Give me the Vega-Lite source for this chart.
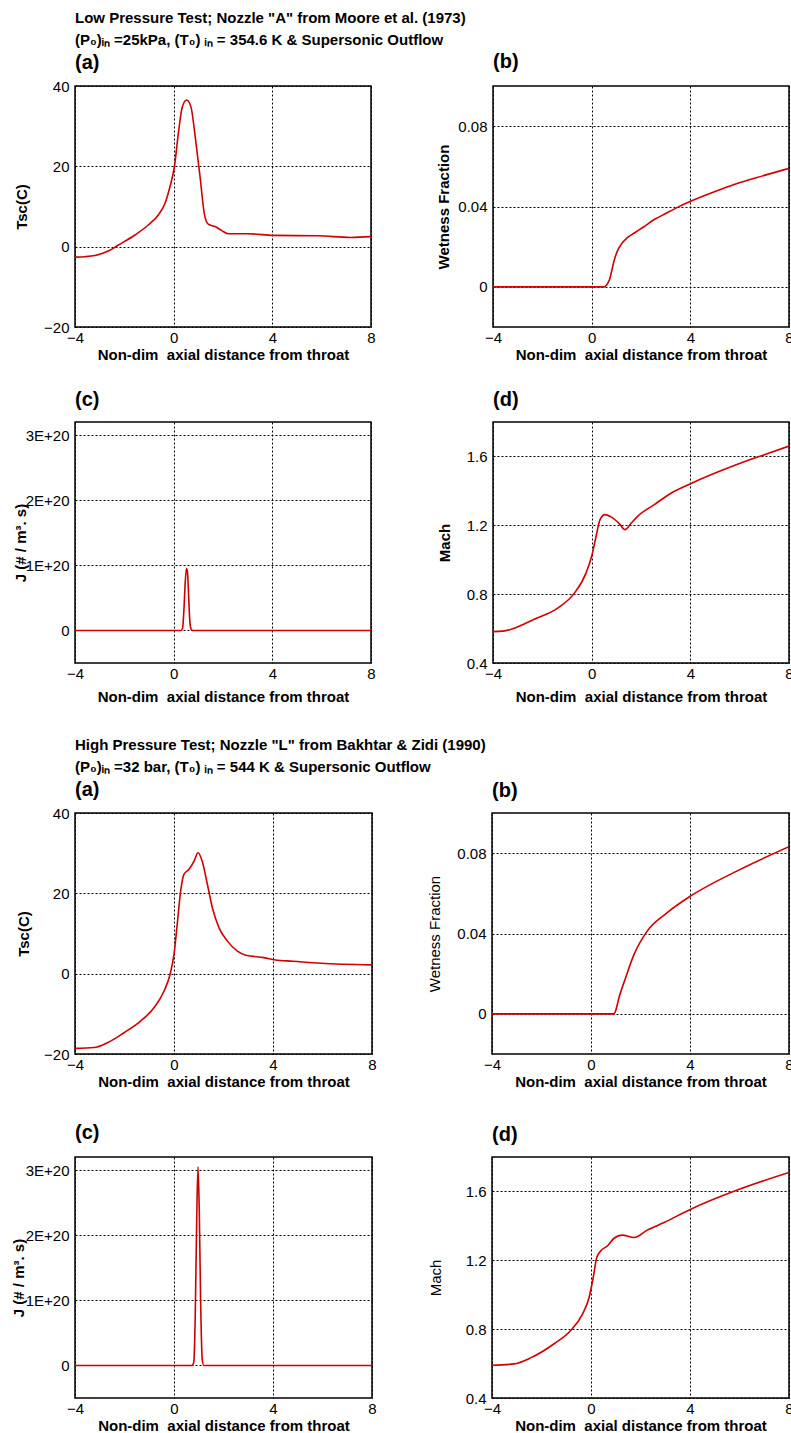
{
  "$schema": "https://vega.github.io/schema/vega-lite/v6.json",
  "background": "white",
  "padding": {"left": 10, "top": 10, "right": 0, "bottom": 5},
  "config": {
    "font": "Liberation Sans",
    "view": {"stroke": "black", "strokeWidth": 1.5},
    "axis": {"grid": true, "gridColor": "black", "gridDash": [2, 2], "gridWidth": 1, "gridOpacity": 1, "domain": false, "ticks": false, "labelFont": "Liberation Sans", "labelFontSize": 15, "labelColor": "black", "labelFlush": false, "titleFont": "Liberation Sans", "titleFontSize": 15, "titleFontWeight": "bold", "titleColor": "black"},
    "axisX": {"labelPadding": 3, "titlePadding": 2},
    "axisY": {"labelPadding": 6},
    "title": {"anchor": "start", "frame": "group", "font": "Liberation Sans", "fontSize": 20, "fontWeight": "bold", "color": "black", "offset": 12, "subtitleFont": "Liberation Sans", "subtitleFontSize": 20, "subtitleFontWeight": "bold", "subtitleColor": "black", "subtitlePadding": 5}
  },
  "datasets": {
    "lowT": [{"x": -4, "v": -2.6}, {"x": -3.6, "v": -2.5}, {"x": -3.19, "v": -2.2}, {"x": -2.65, "v": -1.1}, {"x": -2.24, "v": 0.4}, {"x": -1.57, "v": 2.9}, {"x": -1.03, "v": 5.4}, {"x": -0.62, "v": 7.9}, {"x": -0.35, "v": 10.8}, {"x": -0.15, "v": 14.9}, {"x": 0.03, "v": 19.9}, {"x": 0.19, "v": 28.2}, {"x": 0.35, "v": 34.8}, {"x": 0.53, "v": 36.5}, {"x": 0.7, "v": 34.8}, {"x": 0.89, "v": 26.5}, {"x": 1.07, "v": 17.4}, {"x": 1.24, "v": 8.3}, {"x": 1.4, "v": 5.6}, {"x": 1.68, "v": 5.0}, {"x": 1.95, "v": 4.0}, {"x": 2.22, "v": 3.2}, {"x": 3.0, "v": 3.2}, {"x": 4.07, "v": 2.8}, {"x": 5.84, "v": 2.7}, {"x": 7.19, "v": 2.3}, {"x": 8, "v": 2.5}],
    "lowW": [{"x": -4, "v": 0}, {"x": 0.5, "v": 0}, {"x": 0.6, "v": 0.0008}, {"x": 0.72, "v": 0.0035}, {"x": 0.92, "v": 0.0135}, {"x": 1.05, "v": 0.018}, {"x": 1.19, "v": 0.021}, {"x": 1.45, "v": 0.0245}, {"x": 1.73, "v": 0.0268}, {"x": 2.1, "v": 0.0298}, {"x": 2.54, "v": 0.0335}, {"x": 3.0, "v": 0.0365}, {"x": 3.5, "v": 0.0397}, {"x": 4.03, "v": 0.0427}, {"x": 5.0, "v": 0.0475}, {"x": 5.78, "v": 0.051}, {"x": 7.0, "v": 0.0555}, {"x": 8, "v": 0.059}],
    "lowJ": [{"x": -4, "v": 0}, {"x": 0.3, "v": 0}, {"x": 0.36, "v": 3e18}, {"x": 0.42, "v": 3.5e19}, {"x": 0.47, "v": 7.5e19}, {"x": 0.52, "v": 9.5e19}, {"x": 0.56, "v": 9.0e19}, {"x": 0.61, "v": 5.0e19}, {"x": 0.66, "v": 1.2e19}, {"x": 0.72, "v": 1e18}, {"x": 0.78, "v": 0}, {"x": 8, "v": 0}],
    "lowM": [{"x": -4, "v": 0.582}, {"x": -3.6, "v": 0.585}, {"x": -3.14, "v": 0.602}, {"x": -2.33, "v": 0.654}, {"x": -1.38, "v": 0.719}, {"x": -0.7, "v": 0.806}, {"x": -0.23, "v": 0.922}, {"x": 0, "v": 1.02}, {"x": 0.18, "v": 1.136}, {"x": 0.34, "v": 1.233}, {"x": 0.54, "v": 1.262}, {"x": 0.78, "v": 1.249}, {"x": 1.12, "v": 1.21}, {"x": 1.35, "v": 1.175}, {"x": 1.59, "v": 1.21}, {"x": 1.86, "v": 1.252}, {"x": 2.54, "v": 1.32}, {"x": 3.2, "v": 1.385}, {"x": 4.03, "v": 1.443}, {"x": 5.78, "v": 1.547}, {"x": 7, "v": 1.61}, {"x": 8, "v": 1.66}],
    "highT": [{"x": -4, "v": -18.6}, {"x": -3.23, "v": -18.4}, {"x": -2.69, "v": -17.2}, {"x": -2.02, "v": -14.7}, {"x": -1.35, "v": -11.8}, {"x": -0.81, "v": -8.5}, {"x": -0.4, "v": -4.3}, {"x": -0.16, "v": -0.2}, {"x": 0.0, "v": 4.8}, {"x": 0.13, "v": 12.3}, {"x": 0.27, "v": 20.6}, {"x": 0.4, "v": 24.7}, {"x": 0.61, "v": 26.0}, {"x": 0.81, "v": 28.0}, {"x": 0.97, "v": 30.1}, {"x": 1.14, "v": 28.0}, {"x": 1.35, "v": 22.2}, {"x": 1.55, "v": 16.4}, {"x": 1.82, "v": 11.4}, {"x": 2.16, "v": 8.1}, {"x": 2.56, "v": 5.6}, {"x": 2.9, "v": 4.6}, {"x": 3.64, "v": 4.0}, {"x": 4.1, "v": 3.4}, {"x": 4.8, "v": 3.1}, {"x": 5.93, "v": 2.6}, {"x": 8, "v": 2.2}],
    "highW": [{"x": -4, "v": 0}, {"x": 0.9, "v": 0}, {"x": 0.98, "v": 0.001}, {"x": 1.13, "v": 0.008}, {"x": 1.4, "v": 0.018}, {"x": 1.74, "v": 0.0296}, {"x": 2.27, "v": 0.0412}, {"x": 3.08, "v": 0.0504}, {"x": 4.03, "v": 0.0587}, {"x": 5.91, "v": 0.0712}, {"x": 8, "v": 0.0832}],
    "highJ": [{"x": -4, "v": 0}, {"x": 0.72, "v": 0}, {"x": 0.8, "v": 5e18}, {"x": 0.86, "v": 8e19}, {"x": 0.92, "v": 2.3e20}, {"x": 0.97, "v": 3.05e20}, {"x": 1.02, "v": 2.4e20}, {"x": 1.08, "v": 9e19}, {"x": 1.14, "v": 1e19}, {"x": 1.2, "v": 0}, {"x": 8, "v": 0}],
    "highM": [{"x": -4, "v": 0.59}, {"x": -3.11, "v": 0.598}, {"x": -2.44, "v": 0.633}, {"x": -1.49, "v": 0.715}, {"x": -0.82, "v": 0.792}, {"x": -0.35, "v": 0.886}, {"x": -0.08, "v": 0.982}, {"x": 0.09, "v": 1.1}, {"x": 0.23, "v": 1.215}, {"x": 0.39, "v": 1.254}, {"x": 0.66, "v": 1.283}, {"x": 0.93, "v": 1.328}, {"x": 1.26, "v": 1.346}, {"x": 1.74, "v": 1.332}, {"x": 2.27, "v": 1.375}, {"x": 2.95, "v": 1.419}, {"x": 4.03, "v": 1.497}, {"x": 5.91, "v": 1.608}, {"x": 8, "v": 1.71}]
  },
  "spacing": 32,
  "vconcat": [
    {
      "columns": 2, "bounds": "flush", "spacing": {"row": 95, "column": 122},
      "concat": [
        {
          "width": 296, "height": 241, "data": {"name": "lowT"},
          "title": {"text": ["Low Pressure Test; Nozzle \"A\" from Moore et al. (1973)", "(P₀)ᵢₙ =25kPa, (T₀) ᵢₙ =  354.6 K & Supersonic Outflow"], "subtitle": "(a)", "fontSize": 15, "lineHeight": 22, "offset": 6},
          "mark": {"type": "line", "color": "#d00000", "strokeWidth": 1.6, "interpolate": "monotone", "clip": true},
          "encoding": {
            "x": {"field": "x", "type": "quantitative", "scale": {"domain": [-4, 8], "nice": false}, "axis": {"values": [-4, 0, 4, 8], "title": "Non-dim\u00a0 axial distance from throat"}},
            "y": {"field": "v", "type": "quantitative", "scale": {"domain": [-20, 40], "nice": false, "zero": false}, "axis": {"values": [-20, 0, 20, 40], "title": "Tsc(C)", "titleX": -46}}
          }
        },
        {
          "width": 296, "height": 241, "data": {"name": "lowW"},
          "title": {"text": "(b)", "offset": 14},
          "mark": {"type": "line", "color": "#d00000", "strokeWidth": 1.6, "interpolate": "monotone", "clip": true},
          "encoding": {
            "x": {"field": "x", "type": "quantitative", "scale": {"domain": [-4, 8], "nice": false}, "axis": {"values": [-4, 0, 4, 8], "title": "Non-dim\u00a0 axial distance from throat"}},
            "y": {"field": "v", "type": "quantitative", "scale": {"domain": [-0.02, 0.1], "nice": false, "zero": false}, "axis": {"values": [0, 0.04, 0.08], "format": "~g", "title": "Wetness Fraction", "titleX": -42}}
          }
        },
        {
          "width": 296, "height": 241, "data": {"name": "lowJ"},
          "title": {"text": "(c)"},
          "mark": {"type": "line", "color": "#d00000", "strokeWidth": 1.6, "interpolate": "monotone", "clip": true},
          "encoding": {
            "x": {"field": "x", "type": "quantitative", "scale": {"domain": [-4, 8], "nice": false}, "axis": {"values": [-4, 0, 4, 8], "title": "Non-dim\u00a0 axial distance from throat", "titlePadding": 8}},
            "y": {"field": "v", "type": "quantitative", "scale": {"domain": [-5e19, 3.2e20], "nice": false, "zero": false}, "axis": {"values": [0, 1e20, 2e20, 3e20], "labelExpr": "datum.value == 0 ? '0' : format(datum.value / 1e20, 'd') + 'E+20'", "title": "J (# / m³. s)", "titleX": -47}}
          }
        },
        {
          "width": 296, "height": 241, "data": {"name": "lowM"},
          "title": {"text": "(d)"},
          "mark": {"type": "line", "color": "#d00000", "strokeWidth": 1.6, "interpolate": "monotone", "clip": true},
          "encoding": {
            "x": {"field": "x", "type": "quantitative", "scale": {"domain": [-4, 8], "nice": false}, "axis": {"values": [-4, 0, 4, 8], "title": "Non-dim\u00a0 axial distance from throat", "titlePadding": 8}},
            "y": {"field": "v", "type": "quantitative", "scale": {"domain": [0.4, 1.8], "nice": false, "zero": false}, "axis": {"values": [0.4, 0.8, 1.2, 1.6], "format": ".1f", "title": "Mach", "titleX": -41}}
          }
        }
      ]
    },
    {
      "columns": 2, "bounds": "flush", "spacing": {"row": 103, "column": 120},
      "concat": [
        {
          "width": 297, "height": 241, "data": {"name": "highT"},
          "title": {"text": ["High Pressure Test; Nozzle \"L\" from Bakhtar & Zidi (1990)", "(P₀)ᵢₙ =32 bar, (T₀) ᵢₙ =  544 K & Supersonic Outflow"], "subtitle": "(a)", "fontSize": 15, "lineHeight": 22, "offset": 6},
          "mark": {"type": "line", "color": "#d00000", "strokeWidth": 1.6, "interpolate": "monotone", "clip": true},
          "encoding": {
            "x": {"field": "x", "type": "quantitative", "scale": {"domain": [-4, 8], "nice": false}, "axis": {"values": [-4, 0, 4, 8], "title": "Non-dim\u00a0 axial distance from throat"}},
            "y": {"field": "v", "type": "quantitative", "scale": {"domain": [-20, 40], "nice": false, "zero": false}, "axis": {"values": [-20, 0, 20, 40], "title": "Tsc(C)", "titleX": -44}}
          }
        },
        {
          "width": 297, "height": 241, "data": {"name": "highW"},
          "title": {"text": "(b)"},
          "mark": {"type": "line", "color": "#d00000", "strokeWidth": 1.6, "interpolate": "monotone", "clip": true},
          "encoding": {
            "x": {"field": "x", "type": "quantitative", "scale": {"domain": [-4, 8], "nice": false}, "axis": {"values": [-4, 0, 4, 8], "title": "Non-dim\u00a0 axial distance from throat"}},
            "y": {"field": "v", "type": "quantitative", "scale": {"domain": [-0.02, 0.1], "nice": false, "zero": false}, "axis": {"values": [0, 0.04, 0.08], "format": "~g", "title": "Wetness Fraction", "titleFontWeight": "normal", "titleX": -50}}
          }
        },
        {
          "width": 297, "height": 241, "data": {"name": "highJ"},
          "title": {"text": "(c)", "offset": 14},
          "mark": {"type": "line", "color": "#d00000", "strokeWidth": 1.6, "interpolate": "monotone", "clip": true},
          "encoding": {
            "x": {"field": "x", "type": "quantitative", "scale": {"domain": [-4, 8], "nice": false}, "axis": {"values": [-4, 0, 4, 8], "title": "Non-dim\u00a0 axial distance from throat"}},
            "y": {"field": "v", "type": "quantitative", "scale": {"domain": [-5e19, 3.2e20], "nice": false, "zero": false}, "axis": {"values": [0, 1e20, 2e20, 3e20], "labelExpr": "datum.value == 0 ? '0' : format(datum.value / 1e20, 'd') + 'E+20'", "title": "J (# / m³. s)", "titleX": -49}}
          }
        },
        {
          "width": 297, "height": 241, "data": {"name": "highM"},
          "title": {"text": "(d)"},
          "mark": {"type": "line", "color": "#d00000", "strokeWidth": 1.6, "interpolate": "monotone", "clip": true},
          "encoding": {
            "x": {"field": "x", "type": "quantitative", "scale": {"domain": [-4, 8], "nice": false}, "axis": {"values": [-4, 0, 4, 8], "title": "Non-dim\u00a0 axial distance from throat"}},
            "y": {"field": "v", "type": "quantitative", "scale": {"domain": [0.4, 1.8], "nice": false, "zero": false}, "axis": {"values": [0.4, 0.8, 1.2, 1.6], "format": ".1f", "title": "Mach", "titleFontWeight": "normal", "titleX": -49}}
          }
        }
      ]
    }
  ]
}
